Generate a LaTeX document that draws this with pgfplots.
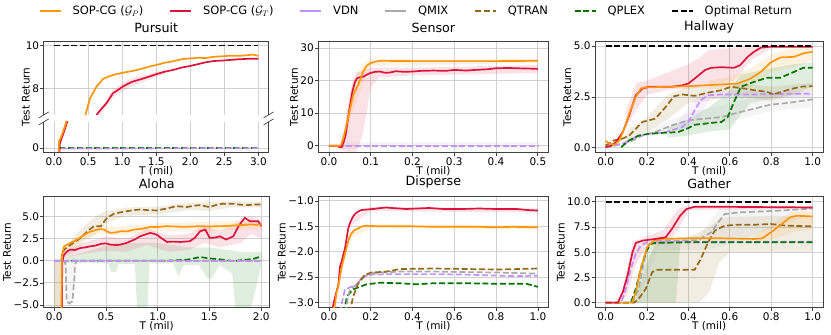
\documentclass[border=0pt]{standalone}
\usepackage{fontspec}
\setmainfont{DejaVu Sans}
\usepackage{pgfplots}
\pgfplotsset{compat=1.18}

\definecolor{cOr}{RGB}{255,150,10}
\definecolor{cRd}{RGB}{220,20,60}
\definecolor{cVd}{RGB}{195,145,250}
\definecolor{cQm}{RGB}{170,170,170}
\definecolor{cQt}{RGB}{150,105,25}
\definecolor{cQp}{RGB}{0,115,0}

\tikzset{pframe/.style={draw=black!75, line width=0.7pt}}
\pgfplotsset{
  panel/.style={
    scale only axis, anchor=north west, no markers,
    axis line style={black!75, line width=0.7pt},
    grid=major, grid style={black!18, line width=0.8pt},
    tick align=outside, major tick length=3.5pt,
    tick style={black!75, line width=0.7pt},
    xtick pos=bottom, ytick pos=left,
    tick label style={font=\fontsize{10.5}{12}\selectfont, inner sep=1pt},
    label style={font=\fontsize{10.5}{12}\selectfont},
    title style={font=\fontsize{12.7}{14}\selectfont, inner sep=0pt, yshift=2pt},
    xlabel={T (mil)}, ylabel={Test Return},
    xlabel style={inner sep=0pt}, ylabel style={yshift=-2pt},
    /pgf/number format/assume math mode=true,
    /pgf/number format/fixed, /pgf/number format/fixed zerofill,
    /pgf/number format/precision=1,
    clip mode=individual,
  },
  lOr/.style={color=cOr, line width=1.7pt},
  lRd/.style={color=cRd, line width=1.7pt},
  lVd/.style={color=cVd, line width=1.7pt, dash pattern=on 6pt off 2.7pt},
  lQm/.style={color=cQm, line width=1.7pt, dash pattern=on 6pt off 2.7pt},
  lQt/.style={color=cQt, line width=1.7pt, dash pattern=on 6pt off 2.7pt},
  lQp/.style={color=cQp, line width=1.7pt, dash pattern=on 6pt off 2.7pt},
  lOp/.style={color=black, line width=1.7pt, dash pattern=on 6pt off 2.7pt},
  band/.style={draw=none, fill=#1, fill opacity=0.12, forget plot},
}

\begin{document}
\begin{tikzpicture}
\path (0pt,0pt) rectangle (831pt,-335pt);

% ---------- legend ----------
\begin{axis}[hide axis, scale only axis, width=1pt, height=1pt,
  at={(416pt,-11pt)}, anchor=center, xmin=0, xmax=1, ymin=0, ymax=1,
  legend columns=7,
  legend style={at={(0.5,0.5)}, anchor=center, draw=none, fill=none,
    font=\fontsize{11.5}{13}\selectfont,
    /tikz/every odd column/.append style={column sep=9pt},
    /tikz/every even column/.append style={column sep=24pt}},
  legend image code/.code={\draw[#1] (0pt,0pt) -- (21pt,0pt);}]
\addlegendimage{lOr}\addlegendentry{SOP-CG ($\mathcal{G}_P$)}
\addlegendimage{lRd}\addlegendentry{SOP-CG ($\mathcal{G}_T$)}
\addlegendimage{color=cVd, line width=1.7pt}\addlegendentry{VDN}
\addlegendimage{color=cQm, line width=1.7pt}\addlegendentry{QMIX}
\addlegendimage{lQt}\addlegendentry{QTRAN}
\addlegendimage{lQp}\addlegendentry{QPLEX}
\addlegendimage{lOp}\addlegendentry{Optimal Return}
\end{axis}

% ---------- Pursuit (upper part) ----------
\begin{axis}[panel, at={(43pt,-41pt)}, width=225pt, height=74pt,
  title={Pursuit}, xlabel={}, ylabel={},
  axis line style={draw=none},
  xmin=-0.15, xmax=3.15, ymin=6.75, ymax=10.22,
  xtick={0,0.5,...,3}, xticklabels={}, xtick style={draw=none},
  ytick={8,10}, yticklabels={8,10}]
\addplot[band=cRd] coordinates {(0.62,6.7) (0.77,7.45) (0.87,7.95) (1.01,8.25) (1.15,8.5) (1.39,8.68) (1.63,8.88)
  (1.63,8.68) (1.39,8.4) (1.15,8.1) (1.01,7.88) (0.87,7.58) (0.77,7.12) (0.66,6.7)} -- cycle;
\addplot[lRd] coordinates {(0.6,6.5) (0.635,6.8) (0.7,7.05) (0.77,7.3) (0.866,7.77) (0.93,7.9) (1.01,8.08) (1.08,8.2)
  (1.15,8.31) (1.27,8.42) (1.39,8.54) (1.51,8.67) (1.63,8.78) (1.75,8.86) (1.87,8.97) (1.99,9.04) (2.11,9.13)
  (2.23,9.22) (2.35,9.28) (2.47,9.3) (2.59,9.33) (2.71,9.36) (2.83,9.38) (3.0,9.39)};
\addplot[lOr] coordinates {(0.44,6.5) (0.471,6.87) (0.529,7.53) (0.625,8.08) (0.72,8.44) (0.8,8.55) (0.91,8.66)
  (1.03,8.74) (1.15,8.81) (1.27,8.9) (1.39,9.01) (1.51,9.1) (1.63,9.2) (1.75,9.27) (1.87,9.36) (1.99,9.4)
  (2.11,9.43) (2.23,9.42) (2.35,9.48) (2.47,9.5) (2.59,9.53) (2.71,9.52) (2.83,9.55) (2.92,9.58) (3.0,9.52)};
\addplot[lOp] coordinates {(0,10) (3,10)};
\draw[pframe] (rel axis cs:0,0) -- (rel axis cs:0,1) -- (rel axis cs:1,1) -- (rel axis cs:1,0);
\draw[pframe, shift={(rel axis cs:0,0)}] (-5pt,-3pt) -- (5pt,3pt);
\draw[pframe, shift={(rel axis cs:1,0)}] (-5pt,-3pt) -- (5pt,3pt);
\end{axis}

% ---------- Pursuit (lower part) ----------
\begin{axis}[panel, at={(43pt,-122pt)}, width=225pt, height=31pt,
  ylabel={}, axis line style={draw=none},
  xmin=-0.15, xmax=3.15, ymin=-0.22, ymax=1.23,
  xtick={0,0.5,...,3}, ytick={0}, yticklabels={0}]
\addplot[lQm] coordinates {(0.08,0) (3.0,0)};
\addplot[lQt] coordinates {(0.08,0) (3.0,0)};
\addplot[lQp] coordinates {(0.08,0) (3.0,0)};
\addplot[lVd] coordinates {(0.1,-0.02) (0.4,-0.02) (3.0,0)};
\addplot[lRd] coordinates {(0.08,-0.25) (0.085,0.2) (0.11,0.45) (0.15,0.8) (0.19,1.2) (0.21,1.4)};
\addplot[lOr] coordinates {(0.07,-0.25) (0.072,0.3) (0.1,0.5) (0.13,0.75) (0.17,1.13) (0.19,1.35)};
\draw[pframe] (rel axis cs:0,1) -- (rel axis cs:0,0) -- (rel axis cs:1,0) -- (rel axis cs:1,1);
\draw[pframe, shift={(rel axis cs:0,1)}] (-5pt,-3pt) -- (5pt,3pt);
\draw[pframe, shift={(rel axis cs:1,1)}] (-5pt,-3pt) -- (5pt,3pt);
\end{axis}
\node[rotate=90, font=\fontsize{10.5}{12}\selectfont] at (25pt,-97pt) {Test Return};

% ---------- Sensor ----------
\begin{axis}[panel, at={(318pt,-41pt)}, width=230pt, height=112pt,
  title={Sensor},
  xmin=-0.025, xmax=0.525, ymin=-2.2, ymax=32.2,
  xtick={0,0.1,...,0.5}, ytick={0,10,20,30}, yticklabels={0,10,20,30}]
\addplot[band=cQm] coordinates {(0.03,-1) (0.5,-1) (0.5,1.2) (0.03,1.2)} -- cycle;
\addplot[band=cRd] coordinates {(0.025,0) (0.035,4) (0.045,12) (0.055,19) (0.065,22.5) (0.08,23) (0.1,24) (0.2,24)
  (0.5,24.8) (0.5,22.3) (0.2,21.6) (0.12,21) (0.1,18) (0.09,10) (0.08,3) (0.065,-2) (0.05,-2) (0.03,-1.5)} -- cycle;
\addplot[band=cOr] coordinates {(0.04,8) (0.055,19) (0.07,23) (0.09,26) (0.1,26.5) (0.5,26.6)
  (0.5,25.5) (0.1,24.5) (0.085,20) (0.07,15) (0.055,10) (0.04,3)} -- cycle;
\addplot[lQm] coordinates {(0,0) (0.5,0)};
\addplot[lQt] coordinates {(0,0) (0.5,0)};
\addplot[lQp] coordinates {(0,0) (0.5,0)};
\addplot[lVd] coordinates {(0,0) (0.5,0)};
\addplot[lRd] coordinates {(0,0) (0.02,0) (0.025,-0.5) (0.03,-0.5) (0.035,1) (0.04,3.3) (0.048,10.5) (0.056,16.6)
  (0.062,19.5) (0.067,20.7) (0.075,21.1) (0.082,21.2) (0.09,21.8) (0.098,22.3) (0.11,22.7) (0.122,22.8)
  (0.135,22.4) (0.146,22.5) (0.16,22.9) (0.18,22.7) (0.2,22.8) (0.22,23.0) (0.25,23.1) (0.28,23.0) (0.3,23.3)
  (0.33,23.1) (0.35,23.3) (0.38,23.5) (0.4,23.8) (0.43,23.9) (0.45,23.8) (0.48,23.7) (0.5,23.6)};
\addplot[lOr] coordinates {(0,0) (0.026,0) (0.03,0.5) (0.036,3) (0.042,6.4) (0.05,11) (0.058,15.6) (0.07,18.7)
  (0.082,22.8) (0.09,24.5) (0.098,25.3) (0.11,25.8) (0.122,26.1) (0.2,26.0) (0.3,26.0) (0.4,26.0) (0.5,26.1)};
\end{axis}

% ---------- Hallway ----------
\begin{axis}[panel, at={(595pt,-41pt)}, width=228pt, height=112pt,
  title={Hallway},
  xmin=-0.05, xmax=1.05, ymin=-0.25, ymax=5.25,
  xtick={0,0.2,...,1.0}, ytick={0,2.5,5}]
\addplot[band=cRd] coordinates {(0.1,1.9) (0.15,3.2) (0.2,3.3) (0.3,3.7) (0.4,4.1) (0.45,4.4) (0.5,4.8) (0.6,4.9)
  (0.7,5.0) (1.0,5.0) (1.0,4.95) (0.8,4.9) (0.7,4.3) (0.62,3.3) (0.5,3.0) (0.4,2.9) (0.3,2.85) (0.2,2.6)
  (0.15,1.9) (0.1,1.0)} -- cycle;
\addplot[band=cOr] coordinates {(0.5,3.3) (0.6,3.5) (0.7,3.9) (0.8,4.6) (0.9,4.9) (1.0,5.0)
  (1.0,4.3) (0.9,3.95) (0.8,3.7) (0.7,3.0) (0.6,2.9) (0.5,2.9)} -- cycle;
\addplot[band=cQp] coordinates {(0.3,1.0) (0.4,1.4) (0.5,2.0) (0.6,2.8) (0.65,3.6) (0.8,3.9) (0.9,4.1) (1.0,4.2)
  (1.0,3.0) (0.9,2.6) (0.8,2.4) (0.7,2.2) (0.65,1.6) (0.6,0.9) (0.5,0.8) (0.4,0.6) (0.3,0.5)} -- cycle;
\addplot[band=cQt] coordinates {(0.1,0.8) (0.2,1.5) (0.3,2.6) (0.4,3.0) (0.5,3.0) (0.6,3.2) (0.8,3.0) (1.0,3.2)
  (1.0,2.8) (0.8,2.3) (0.6,2.6) (0.5,2.3) (0.4,2.2) (0.3,1.4) (0.2,0.8) (0.1,0.3)} -- cycle;
\addplot[band=cQm] coordinates {(0.2,0.9) (0.4,1.7) (0.6,2.2) (0.8,2.6) (1.0,2.7)
  (1.0,2.0) (0.8,1.8) (0.6,1.3) (0.4,1.0) (0.2,0.5)} -- cycle;
\addplot[band=cVd] coordinates {(0.35,1.3) (0.45,2.6) (0.5,2.8) (1.0,2.8) (1.0,2.5) (0.5,2.4) (0.45,1.4) (0.35,0.8)} -- cycle;
\addplot[lQm] coordinates {(0,0) (0.114,0.28) (0.178,0.6) (0.24,0.77) (0.32,1.1) (0.4,1.35) (0.48,1.43) (0.56,1.51)
  (0.64,1.73) (0.717,1.92) (0.797,2.12) (0.876,2.2) (1.0,2.38)};
\addplot[lVd] coordinates {(0,0.03) (0.083,0.2) (0.146,0.53) (0.21,0.69) (0.29,0.77) (0.37,1.02) (0.4,1.27)
  (0.43,1.84) (0.46,2.34) (0.495,2.58) (0.56,2.62) (0.717,2.62) (0.876,2.65) (1.0,2.66)};
\addplot[lQt] coordinates {(0,0.1) (0.04,0.36) (0.08,0.44) (0.114,0.6) (0.178,1.27) (0.24,1.43) (0.29,2.0)
  (0.33,2.53) (0.37,2.62) (0.43,2.55) (0.495,2.71) (0.56,2.83) (0.606,3.0) (0.67,2.91) (0.717,2.83) (0.78,2.75)
  (0.81,2.62) (0.876,2.83) (0.94,3.0) (1.0,3.03)};
\addplot[lQp] coordinates {(0.075,0.03) (0.114,0.36) (0.16,0.6) (0.21,0.69) (0.29,0.74) (0.35,0.77) (0.4,0.97)
  (0.43,1.13) (0.51,1.22) (0.56,1.27) (0.59,1.51) (0.62,2.25) (0.654,3.0) (0.717,3.24) (0.78,3.44) (0.844,3.44)
  (0.91,3.73) (0.955,3.93) (1.0,3.93)};
\addplot[lRd] coordinates {(0,0.03) (0.027,0.1) (0.05,0.28) (0.083,0.77) (0.114,1.6) (0.146,2.58) (0.178,2.91)
  (0.21,3.0) (0.32,3.0) (0.37,3.07) (0.4,3.16) (0.43,3.4) (0.48,3.82) (0.51,3.93) (0.56,3.96) (0.62,3.93)
  (0.65,4.06) (0.686,4.47) (0.717,4.72) (0.75,4.92) (0.797,4.97) (1.0,4.97)};
\addplot[lOr] coordinates {(0,0.33) (0.02,0.2) (0.043,0.15) (0.067,0.36) (0.09,0.94) (0.114,1.68) (0.146,2.5)
  (0.17,2.91) (0.194,2.98) (0.24,2.98) (0.4,3.03) (0.56,3.11) (0.64,3.16) (0.7,3.4) (0.75,3.73) (0.797,4.19)
  (0.844,4.44) (0.91,4.47) (0.955,4.64) (1.0,4.72)};
\addplot[lOp] coordinates {(0,5) (1,5)};
\end{axis}

% ---------- Aloha ----------
\begin{axis}[panel, at={(43pt,-197pt)}, width=226pt, height=111pt,
  title={Aloha},
  xmin=-0.1, xmax=2.08, ymin=-5.3, ymax=7.2,
  xtick={0,0.5,...,2}, ytick={-5,-2.5,0,2.5,5},
  yticklabels={−5.0,−2.5,0.0,2.5,5.0}]
\addplot[draw=none, fill=cQt, fill opacity=0.2, forget plot] coordinates {(0,-5.3) (0.08,-5.3) (0.08,0) (0,0)} -- cycle;
\addplot[band=cQp] coordinates {(0.1,0.3) (0.3,1.0) (0.6,2.0) (1.0,2.0) (1.3,1.5) (1.5,1.5) (1.8,1.0) (2.0,1.0)
  (2.0,-0.5) (1.9,-5.4) (1.75,-5.4) (1.72,-1.5) (1.6,-0.5) (1.52,-2.0) (1.48,-2.0) (1.4,-0.5) (1.25,-0.5)
  (1.2,-1.8) (1.15,-0.3) (0.92,-0.3) (0.9,-5.4) (0.8,-5.4) (0.78,-0.4) (0.62,-0.4) (0.6,-1.3) (0.55,-1.3)
  (0.52,-0.3) (0.1,-0.2)} -- cycle;
\addplot[band=cQm] coordinates {(0.1,0.3) (0.2,0.3) (0.2,-1) (0.17,-5) (0.13,-5.2) (0.1,-1)} -- cycle;
\addplot[band=cQt] coordinates {(0.08,1.0) (0.2,2.8) (0.3,4.0) (0.4,5.0) (0.5,5.6) (0.7,6.0) (1.0,6.1) (1.3,6.5)
  (1.5,6.6) (1.7,6.7) (2.0,6.6) (2.0,6.0) (1.7,6.0) (1.5,5.6) (1.3,5.7) (1.0,5.2) (0.7,5.1) (0.5,4.2) (0.4,3.0)
  (0.3,2.3) (0.2,1.0) (0.08,0.3)} -- cycle;
\addplot[band=cRd] coordinates {(0.1,1.0) (0.3,2.1) (0.5,2.7) (0.7,2.5) (0.9,3.6) (1.1,2.9) (1.3,3.0) (1.45,4.0)
  (1.6,3.3) (1.8,4.6) (1.9,5.0) (2.0,4.5) (2.0,2.5) (1.9,3.0) (1.8,2.0) (1.6,1.5) (1.45,2.0) (1.3,1.2)
  (1.1,1.0) (0.9,1.8) (0.7,1.0) (0.5,1.1) (0.3,0.8) (0.1,0.3)} -- cycle;
\addplot[band=cOr] coordinates {(0.1,1.6) (0.3,3.0) (0.45,3.9) (0.6,3.8) (1.0,4.2) (1.5,4.4) (2.0,4.5)
  (2.0,3.6) (1.5,3.3) (1.0,3.3) (0.6,2.8) (0.45,3.1) (0.3,2.5) (0.1,0.9)} -- cycle;
\addplot[lQm] coordinates {(0,0) (0.1,0) (0.11,-0.5) (0.12,-4.6) (0.144,-4.8) (0.176,-4.6) (0.195,-2) (0.2,-0.45)
  (0.22,0) (2.0,0)};
\addplot[lQp] coordinates {(0,0) (0.08,0) (0.096,-0.08) (0.2,0) (0.5,0) (0.8,0) (1.1,0) (1.28,0.1) (1.41,0.41)
  (1.5,0.25) (1.57,0.19) (1.73,-0.05) (1.85,0.1) (1.92,0.19) (2.0,0.49)};
\addplot[lVd] coordinates {(0,0) (2.0,0)};
\addplot[lQt] coordinates {(0.07,0) (0.074,0.68) (0.096,1.25) (0.16,1.8) (0.256,2.57) (0.32,3.3) (0.384,3.89)
  (0.45,3.89) (0.51,4.83) (0.576,5.28) (0.64,5.45) (0.704,5.58) (0.77,5.7) (0.83,5.77) (0.9,5.7) (0.99,5.66)
  (1.09,5.89) (1.18,6.15) (1.28,6.04) (1.35,6.2) (1.41,6.26) (1.5,6.04) (1.57,6.3) (1.63,6.42) (1.73,6.42)
  (1.8,6.3) (1.86,6.26) (1.93,6.32) (2.0,6.34)};
\addplot[lRd] coordinates {(0.075,-5.5) (0.078,-0.1) (0.096,0.68) (0.13,1.1) (0.16,1.25) (0.2,1.2) (0.256,1.43)
  (0.3,1.5) (0.35,1.62) (0.4,1.7) (0.45,1.89) (0.5,1.95) (0.544,1.81) (0.6,1.75) (0.64,1.81) (0.7,2.0)
  (0.736,2.19) (0.78,2.4) (0.83,2.75) (0.88,2.95) (0.93,3.13) (0.99,2.94) (1.04,2.5) (1.09,2.11) (1.15,2.15)
  (1.22,2.11) (1.31,2.19) (1.36,2.6) (1.41,3.32) (1.46,3.5) (1.5,2.57) (1.55,2.6) (1.6,2.75) (1.66,2.38)
  (1.73,2.75) (1.78,3.89) (1.84,4.83) (1.89,4.45) (1.97,4.45) (2.0,3.89)};
\addplot[lOr] coordinates {(0.07,-5.5) (0.075,0.68) (0.096,1.62) (0.14,1.9) (0.19,2.19) (0.25,2.6) (0.32,3.13)
  (0.37,3.35) (0.416,3.5) (0.45,3.55) (0.48,3.5) (0.51,3.3) (0.544,3.13) (0.6,3.2) (0.64,3.32) (0.7,3.3)
  (0.77,3.5) (0.85,3.6) (0.93,3.81) (1.0,3.8) (1.09,3.89) (1.17,3.85) (1.25,3.81) (1.33,3.85) (1.41,3.89)
  (1.5,3.85) (1.57,3.89) (1.65,3.9) (1.73,3.96) (1.8,4.0) (1.89,4.08) (1.95,4.05) (2.0,4.08)};
\end{axis}

% ---------- Disperse ----------
\begin{axis}[panel, at={(318pt,-197pt)}, width=230pt, height=111pt,
  title={Disperse},
  xmin=-0.05, xmax=1.05, ymin=-3.1, ymax=-0.92,
  xtick={0,0.2,...,1.0}, ytick={-3,-2.5,-2,-1.5,-1},
  yticklabels={−3.0,−2.5,−2.0,−1.5,−1.0}]
\addplot[band=cRd] coordinates {(0.1,-1.38) (0.2,-1.12) (1.0,-1.15) (1.0,-1.23) (0.2,-1.2) (0.1,-1.5)} -- cycle;
\addplot[band=cOr] coordinates {(0.1,-1.63) (0.2,-1.46) (1.0,-1.48) (1.0,-1.56) (0.2,-1.53) (0.1,-1.75)} -- cycle;
\addplot[lQp] coordinates {(0.07,-3.2) (0.076,-3.1) (0.085,-2.9) (0.092,-2.85) (0.115,-2.74) (0.148,-2.69)
  (0.18,-2.64) (0.244,-2.61) (0.34,-2.62) (0.42,-2.64) (0.5,-2.62) (0.66,-2.62) (0.817,-2.63) (0.945,-2.63) (1.0,-2.69)};
\addplot[lQm] coordinates {(0.08,-3.2) (0.09,-2.9) (0.1,-2.75) (0.13,-2.65) (0.15,-2.55) (0.164,-2.49) (0.204,-2.42)
  (0.34,-2.39) (0.5,-2.39) (0.66,-2.4) (0.817,-2.41) (0.9,-2.42) (1.0,-2.43)};
\addplot[lVd] coordinates {(0.055,-3.2) (0.06,-3.05) (0.07,-2.85) (0.076,-2.75) (0.09,-2.72) (0.1,-2.7) (0.12,-2.67)
  (0.14,-2.62) (0.155,-2.55) (0.172,-2.49) (0.204,-2.45) (0.3,-2.44) (0.5,-2.44) (0.66,-2.45) (0.817,-2.47)
  (0.9,-2.48) (1.0,-2.47)};
\addplot[lQt] coordinates {(0.1,-3.2) (0.115,-2.89) (0.14,-2.62) (0.172,-2.45) (0.204,-2.41) (0.276,-2.39)
  (0.34,-2.34) (0.5,-2.33) (0.66,-2.34) (0.817,-2.35) (1.0,-2.33)};
\addplot[lRd] coordinates {(0.015,-3.2) (0.02,-3.05) (0.035,-2.8) (0.045,-2.65) (0.053,-2.29) (0.06,-2.2)
  (0.069,-2.05) (0.076,-1.95) (0.084,-1.75) (0.092,-1.55) (0.1,-1.44) (0.112,-1.33) (0.124,-1.26) (0.14,-1.21)
  (0.156,-1.18) (0.18,-1.17) (0.21,-1.16) (0.25,-1.14) (0.275,-1.13) (0.3,-1.14) (0.37,-1.16) (0.42,-1.15)
  (0.48,-1.14) (0.55,-1.16) (0.64,-1.16) (0.72,-1.15) (0.8,-1.16) (0.9,-1.16) (0.95,-1.18) (1.0,-1.19)};
\addplot[lOr] coordinates {(0.015,-3.2) (0.028,-3.05) (0.037,-2.78) (0.044,-2.69) (0.06,-2.32) (0.076,-2.05)
  (0.084,-1.92) (0.092,-1.8) (0.1,-1.7) (0.108,-1.64) (0.12,-1.58) (0.14,-1.54) (0.16,-1.5) (0.18,-1.49)
  (0.24,-1.5) (0.3,-1.5) (0.4,-1.5) (0.5,-1.51) (0.6,-1.51) (0.72,-1.51) (0.8,-1.52) (0.88,-1.51) (1.0,-1.52)};
\end{axis}

% ---------- Gather ----------
\begin{axis}[panel, at={(595pt,-197pt)}, width=228pt, height=111pt,
  title={Gather},
  xmin=-0.05, xmax=1.05, ymin=-0.5, ymax=10.5,
  xtick={0,0.2,...,1.0}, ytick={0,2.5,5,7.5,10}]
\addplot[band=cQt] coordinates {(0.15,0.5) (0.2,4.0) (0.25,6.2) (0.4,6.5) (0.5,7.5) (0.55,8.3) (0.6,8.5) (0.8,8.6)
  (1.0,8.6) (1.0,5.0) (0.8,5.0) (0.6,5.0) (0.55,4.0) (0.5,1.0) (0.45,0) (0.25,0) (0.15,0)} -- cycle;
\addplot[band=cQp] coordinates {(0.13,0) (0.17,3.4) (0.2,5.5) (0.24,6.0) (0.36,6.0) (0.36,5.8) (0.34,0)} -- cycle;
\addplot[band=cRd] coordinates {(0.07,0.2) (0.1,3.0) (0.13,6.0) (0.2,6.6) (0.28,7.2) (0.35,9.3) (0.4,9.6) (1.0,9.6)
  (1.0,9.3) (0.4,9.2) (0.36,7.6) (0.3,5.8) (0.2,5.7) (0.14,3.5) (0.1,0.6) (0.07,0)} -- cycle;
\addplot[band=cQm] coordinates {(0.15,1) (0.25,6.5) (0.45,6.6) (0.55,9.3) (1.0,9.6) (1.0,8.8) (0.55,5.5)
  (0.45,5.2) (0.25,5.2) (0.15,0)} -- cycle;
\addplot[band=cOr] coordinates {(0.72,6.6) (0.8,7.8) (0.9,9.0) (1.0,9.0) (1.0,7.3) (0.9,7.0) (0.8,6.2) (0.72,6.1)} -- cycle;
\addplot[lQm] coordinates {(0,0) (0.13,0) (0.16,1.38) (0.19,4.5) (0.21,5.8) (0.25,6.1) (0.45,6.2) (0.47,6.5)
  (0.51,6.97) (0.545,8.0) (0.575,8.78) (0.64,8.95) (0.76,9.05) (0.876,9.18) (1.0,9.34)};
\addplot[lVd] coordinates {(0,0) (0.075,0) (0.098,1.38) (0.122,3.36) (0.146,4.84) (0.17,5.66) (0.2,5.99) (0.4,6.05)
  (0.72,6.05) (1.0,6.05)};
\addplot[lQp] coordinates {(0,0) (0.122,0) (0.146,1.38) (0.17,3.36) (0.194,5.0) (0.217,5.82) (0.24,5.92) (0.4,5.99)
  (1.0,5.99)};
\addplot[lQt] coordinates {(0,0) (0.138,0) (0.16,0.39) (0.194,1.38) (0.225,3.03) (0.25,3.26) (0.43,3.26) (0.46,4.34)
  (0.495,5.99) (0.527,7.14) (0.575,7.63) (0.64,7.73) (0.72,7.73) (0.797,7.8) (0.876,7.63) (1.0,7.57)};
\addplot[lOr] coordinates {(0,0) (0.127,0) (0.146,1.05) (0.17,3.36) (0.2,5.49) (0.233,6.15) (0.273,6.32) (0.4,6.38)
  (0.56,6.38) (0.717,6.32) (0.757,6.38) (0.81,7.14) (0.86,7.96) (0.89,8.45) (0.924,8.62) (1.0,8.55)};
\addplot[lRd] coordinates {(0,0) (0.059,0) (0.083,1.05) (0.106,2.7) (0.13,5.0) (0.146,5.92) (0.178,6.15) (0.24,6.32)
  (0.29,6.48) (0.32,7.3) (0.36,8.62) (0.39,9.28) (0.43,9.51) (0.56,9.51) (1.0,9.44)};
\addplot[lOp] coordinates {(0,10) (1,10)};
\end{axis}
\end{tikzpicture}
\end{document}
